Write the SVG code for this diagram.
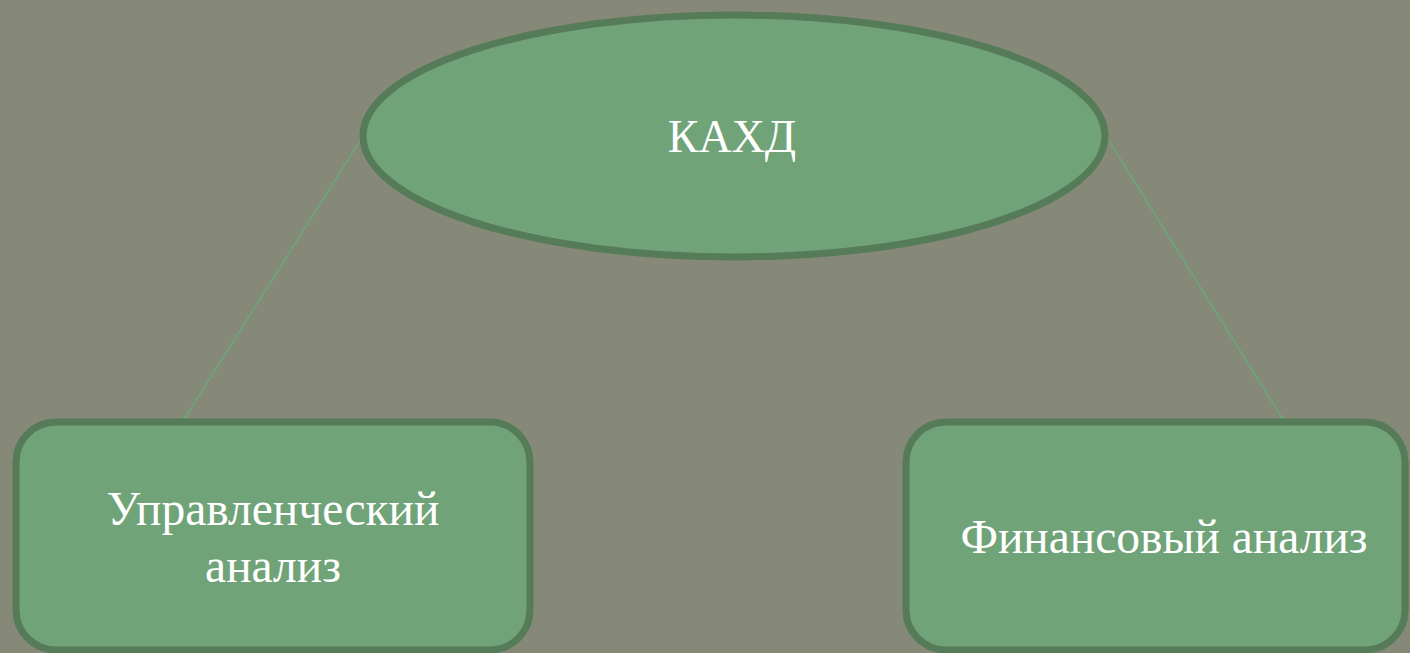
<svg xmlns="http://www.w3.org/2000/svg" width="1410" height="653" viewBox="0 0 1410 653">
<defs>
<style>
.node{fill:#70a378;stroke:#557b58;stroke-width:7}
.lbl{font-family:"Liberation Serif","Times New Roman",serif;font-size:47.5px;fill:#ffffff;text-anchor:middle}
.conn{stroke:#6fa378;stroke-width:1.8;fill:none}
</style>
<marker id="arr" viewBox="0 0 10 10" refX="9" refY="5" markerWidth="6" markerHeight="6" orient="auto" markerUnits="userSpaceOnUse">
<path d="M0,1 L10,5 L0,9 z" fill="#6fa378"/>
</marker>
</defs>
<rect width="1410" height="653" fill="#868977"/>
<g id="connectors">
<line class="conn" x1="363" y1="136" x2="183" y2="421" marker-end="url(#arr)"/>
<line class="conn" x1="1106" y1="136" x2="1284" y2="421" marker-end="url(#arr)"/>
</g>
<g id="node-kahd">
<ellipse class="node" cx="734" cy="136" rx="371" ry="121"/>
<text class="lbl" x="732" y="152" style="font-size:46px">КАХД</text>
</g>
<g id="node-mgmt">
<rect class="node" x="16" y="422" width="514" height="228" rx="40"/>
<text class="lbl" x="273" y="525">Управленческий</text>
<text class="lbl" x="273" y="582">анализ</text>
</g>
<g id="node-fin">
<rect class="node" x="906" y="422" width="499" height="228" rx="40"/>
<text class="lbl" x="1164" y="553">Финансовый анализ</text>
</g>
</svg>
